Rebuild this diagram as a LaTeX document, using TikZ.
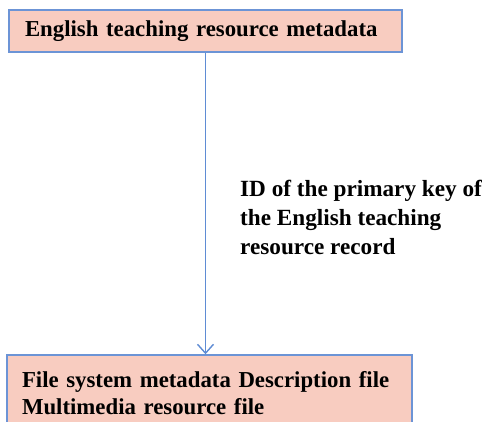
\documentclass[tikz,border=0pt]{standalone}
\usepackage{fontspec}
\setmainfont{Liberation Serif}
\usetikzlibrary{arrows.meta}
\definecolor{boxfill}{RGB}{248,204,192}
\definecolor{boxline}{RGB}{108,148,214}
\definecolor{arrowc}{RGB}{95,140,212}
\tikzset{
  box/.style={draw=boxline, fill=boxfill, line width=1.4pt, rectangle, align=left,
    font=\fontsize{22.8}{27}\selectfont\bfseries, inner ysep=0pt},
  lbl/.style={align=left, font=\fontsize{23.2}{29}\selectfont\bfseries, inner sep=0pt},
  conn/.style={draw=arrowc, line width=1.4pt, -{Straight Barb[length=9pt,width=16pt,line width=1.4pt]}}
}
\begin{document}
\begin{tikzpicture}[x=1pt,y=-1pt]
\useasboundingbox (0,0) rectangle (487,421);
\clip (0,0) rectangle (487,421);
\node[box, minimum width=393pt, minimum height=42pt, text width=361pt, inner xsep=16pt] (top) at (205.5,31) {English teaching resource metadata};
\node[box, minimum width=405pt, minimum height=76pt, text width=375pt, inner xsep=15pt] (bot) at (209.5,393) {File system metadata Description file\\Multimedia resource file};
\draw[conn] (top.south) -- (top.south |- bot.north);
\node[lbl, anchor=north west] (lab) at (240,180) {ID of the primary key of\\the English teaching\\resource record};
\end{tikzpicture}
\end{document}
